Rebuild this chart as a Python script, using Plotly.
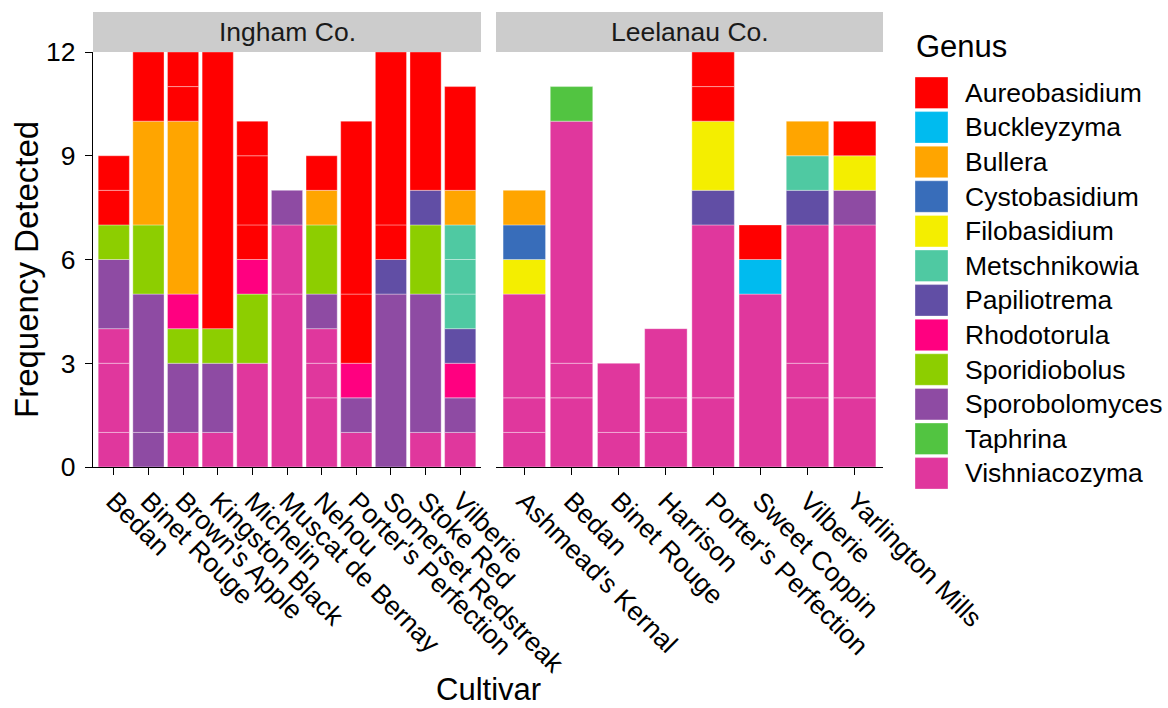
import plotly.graph_objects as go

W, H = 1168, 708

genus_order = ["Aureobasidium", "Buckleyzyma", "Bullera", "Cystobasidium", "Filobasidium",
               "Metschnikowia", "Papiliotrema", "Rhodotorula", "Sporidiobolus",
               "Sporobolomyces", "Taphrina", "Vishniacozyma"]
genus_colors = ["#FF0000", "#00BBEF", "#FFA500", "#386DBA", "#F4EE00", "#4FC9A2",
                "#614EA5", "#FF0080", "#8DCE00", "#8E4BA3", "#52C441", "#E0379D"]

facet_titles = ["Ingham Co.", "Leelanau Co."]

ingham_cultivars = ["Bedan", "Binet Rouge", "Brown's Apple", "Kingston Black", "Michelin",
                    "Muscat de Bernay", "Nehou", "Porter's Perfection", "Somerset Redstreak",
                    "Stoke Red", "Vilberie"]
# sample counts per genus, one list of detection records per cultivar
ingham_segments = {
    "Vishniacozyma":  [[1, 2, 1], [], [1], [1], [3], [5, 2], [2, 1, 1], [1], [], [1], [1]],
    "Sporobolomyces": [[2], [1, 4], [2], [2], [], [1], [1], [1], [5], [4], [1]],
    "Sporidiobolus":  [[1], [2], [1], [1], [2], [], [2], [], [], [2], []],
    "Rhodotorula":    [[], [], [1], [], [1], [], [], [1], [], [], [1]],
    "Papiliotrema":   [[], [], [], [], [], [], [], [], [1], [1], [1]],
    "Metschnikowia":  [[], [], [], [], [], [], [], [], [], [], [1, 1, 1]],
    "Bullera":        [[], [3], [5], [], [], [], [1], [], [], [], [1]],
    "Aureobasidium":  [[1, 1], [2], [1, 1], [8], [1, 2, 1], [], [1], [2, 5], [1, 5], [4], [3]],
}

leelanau_cultivars = ["Ashmead's Kernal", "Bedan", "Binet Rouge", "Harrison",
                      "Porter's Perfection", "Sweet Coppin", "Vilberie", "Yarlington Mills"]
leelanau_segments = {
    "Vishniacozyma":  [[1, 1, 3], [2, 1, 7], [1, 2], [1, 1, 2], [2, 5], [5], [2, 1, 4], [2, 5]],
    "Taphrina":       [[], [1], [], [], [], [], [], []],
    "Sporobolomyces": [[], [], [], [], [], [], [], [1]],
    "Papiliotrema":   [[], [], [], [], [1], [], [1], []],
    "Metschnikowia":  [[], [], [], [], [], [], [1], []],
    "Filobasidium":   [[1], [], [], [], [2], [], [], [1]],
    "Cystobasidium":  [[1], [], [], [], [], [], [], []],
    "Bullera":        [[1], [], [], [], [], [], [1], []],
    "Buckleyzyma":    [[], [], [], [], [], [1], [], []],
    "Aureobasidium":  [[], [], [], [], [1, 1], [1], [], [1]],
}

y_ticks = [0, 3, 6, 9, 12]

FONT = "Liberation Sans, Arial, Helvetica, sans-serif"
color_of = dict(zip(genus_order, genus_colors))
stack_order = list(reversed(genus_order))  # bottom -> top

fig = go.Figure()

facets = [(ingham_cultivars, ingham_segments, "x", "y"),
          (leelanau_cultivars, leelanau_segments, "x2", "y2")]
for cultivars, segs, xa, ya in facets:
    base_acc = [0] * len(cultivars)
    for g in stack_order:
        if g not in segs:
            continue
        xs, ys, bs = [], [], []
        for i, c in enumerate(cultivars):
            for v in segs[g][i]:
                xs.append(c)
                ys.append(v)
                bs.append(base_acc[i])
                base_acc[i] += v
        if not xs:
            continue
        fig.add_trace(go.Bar(
            x=xs, y=ys, base=bs, name=g, xaxis=xa, yaxis=ya, width=0.9,
            marker=dict(color=color_of[g], line=dict(color="rgba(255,255,255,0.35)", width=1)),
            showlegend=False,
            hovertemplate=g + "<br>%{x}: %{y}<extra></extra>",
        ))

# panel geometry (pixels)
L1, R1, L2, R2 = 93, 481, 496, 883
TOP, BOT = 52, 467
STRIP_TOP = 12

def px(x):
    return x / W

def py(y):
    return 1 - y / H

axis_common = dict(
    type="category", tickangle=45, ticks="outside", ticklen=7, tickwidth=1.2,
    tickcolor="black", showline=True, linecolor="black", linewidth=1.2,
    tickfont=dict(family=FONT, size=26.5, color="black"), showgrid=False, zeroline=False,
    fixedrange=True, automargin=False,
)
fig.update_layout(
    template="none",
    xaxis=dict(axis_common, domain=[px(L1), px(R1)], anchor="y",
               categoryorder="array", categoryarray=ingham_cultivars,
               range=[-0.6, len(ingham_cultivars) - 0.4]),
    xaxis2=dict(axis_common, domain=[px(L2), px(R2)], anchor="y2",
                categoryorder="array", categoryarray=leelanau_cultivars,
                range=[-0.6, len(leelanau_cultivars) - 0.4]),
    yaxis=dict(domain=[py(BOT), py(TOP)], range=[0, 12], tickvals=y_ticks,
               ticks="outside", ticklen=7, tickwidth=1.2, tickcolor="black",
               showline=True, linecolor="black", linewidth=1.2, showgrid=False,
               zeroline=False, ticklabelstandoff=4, automargin=False, fixedrange=True,
               tickfont=dict(family=FONT, size=26.5, color="black"), anchor="x"),
    yaxis2=dict(domain=[py(BOT), py(TOP)], range=[0, 12], matches="y",
                showticklabels=False, showline=False, ticks="", showgrid=False,
                zeroline=False, anchor="x2", automargin=False, fixedrange=True),
    barmode="overlay",
    width=W, height=H,
    margin=dict(l=0, r=0, t=0, b=0, pad=0),
    paper_bgcolor="white", plot_bgcolor="white",
    font=dict(family=FONT, color="black"),
    showlegend=False,
)

shapes = []
annotations = []
# facet strips
for (l, r), title in zip([(L1, R1), (L2, R2)], facet_titles):
    shapes.append(dict(type="rect", xref="paper", yref="paper", x0=px(l), x1=px(r),
                       y0=py(TOP), y1=py(STRIP_TOP), fillcolor="#CCCCCC", line=dict(width=0),
                       layer="below"))
    annotations.append(dict(text=title, xref="paper", yref="paper", x=px((l + r) / 2),
                            y=py((TOP + STRIP_TOP) / 2), showarrow=False, xanchor="center",
                            yanchor="middle", font=dict(family=FONT, size=26.5, color="#1A1A1A")))

# axis titles
annotations.append(dict(text="Cultivar", xref="paper", yref="paper", x=px((L1 + R2) / 2),
                        y=py(689), showarrow=False, xanchor="center", yanchor="middle",
                        borderpad=0, font=dict(family=FONT, size=31, color="black")))
annotations.append(dict(text="Frequency Detected", xref="paper", yref="paper", x=px(26),
                        y=py(270), showarrow=False, xanchor="center", yanchor="middle",
                        textangle=-90, font=dict(family=FONT, size=33, color="black")))

# legend (Genus)
annotations.append(dict(text="Genus", xref="paper", yref="paper", x=px(914), y=py(47),
                        showarrow=False, xanchor="left", yanchor="middle",
                        font=dict(family=FONT, size=31, color="black")))
key_top0, key_step, key_h = 77, 34.6, 31.5
for k, g in enumerate(genus_order):
    t = key_top0 + k * key_step
    shapes.append(dict(type="rect", xref="paper", yref="paper", x0=px(915), x1=px(948),
                       y0=py(t + key_h), y1=py(t), fillcolor=color_of[g],
                       line=dict(color="rgba(255,255,255,0.35)", width=1)))
    annotations.append(dict(text=g, xref="paper", yref="paper", x=px(963),
                            y=py(t + key_h / 2), showarrow=False, xanchor="left",
                            yanchor="middle", font=dict(family=FONT, size=26.5, color="black")))

fig.update_layout(shapes=shapes, annotations=annotations)

fig.write_html(
    "out.html",
    config={"displayModeBar": False},
    post_script="document.body.style.margin='0';document.body.style.overflow='hidden';"
                "document.documentElement.style.overflow='hidden';",
)
